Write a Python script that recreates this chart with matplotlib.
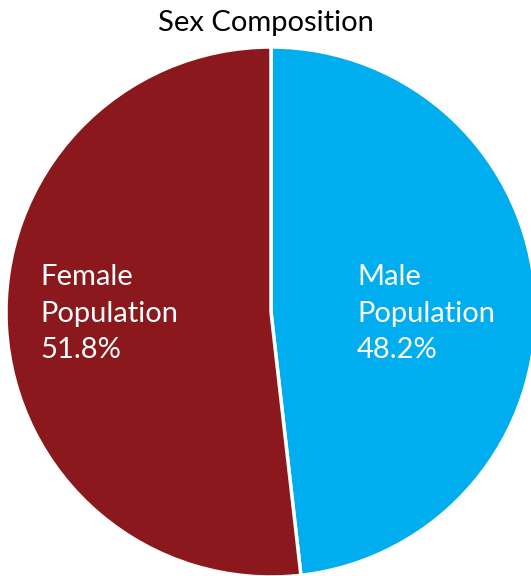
import matplotlib
matplotlib.use("Agg")
import matplotlib.pyplot as plt

categories = ["Male\nPopulation", "Female\nPopulation"]
values = [48.2, 51.8]
colors = ["#00AEEF", "#8B181C"]
title = "Sex Composition"

W, H = 531, 576
fig = plt.figure(figsize=(W / 100, H / 100), dpi=100)
fig.patch.set_facecolor("white")
cx, cy, r = 271, 312, 265
ax = fig.add_axes([(cx - r) / W, (H - cy - r) / H, 2 * r / W, 2 * r / H])

wedges, _ = ax.pie(values, colors=colors, startangle=90, counterclock=False,
                   radius=1, center=(0, 0),
                   wedgeprops=dict(edgecolor="white", linewidth=2.5))
for w in wedges:
    w.set_clip_on(False)
ax.set_xlim(-1, 1)
ax.set_ylim(-1, 1)
ax.set_aspect("equal")
ax.axis("off")

def px(x, y):
    return ((x - cx) / r, (cy - y) / r)

label_pos = [(357, 314), (40, 314)]
for cat, v, (lx, ly) in zip(categories, values, label_pos):
    x, y = px(lx, ly)
    ax.text(x, y, f"{cat}\n{v}%", color="white", fontsize=21, ha="left", va="center",
            linespacing=1.5, family=["Lato", "DejaVu Sans"])

fig.text(0.5, 1 - 23 / H, title, ha="center", va="center", fontsize=21, color="black",
         family=["Lato", "DejaVu Sans"])

fig.savefig("out.png", dpi=100)
